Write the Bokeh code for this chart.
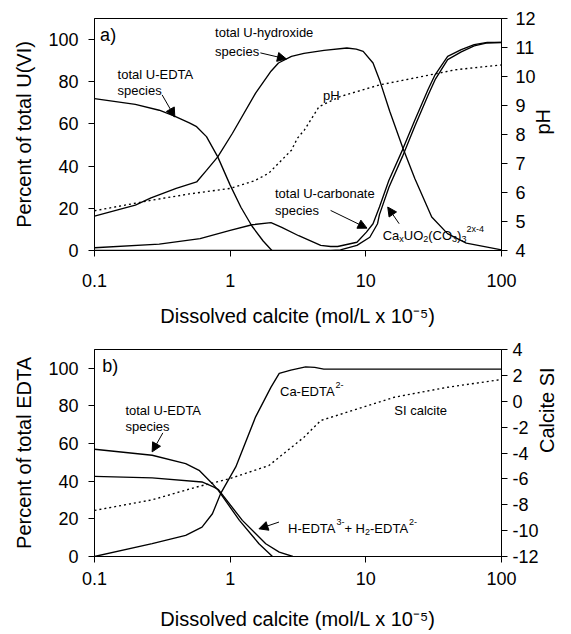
import math
from bokeh.plotting import figure
from bokeh.models import (Range1d, LinearAxis, FixedTicker, Label, Arrow,
                          NormalHead, CustomJSTickFormatter)
from bokeh.layouts import column
from bokeh.embed import file_html
from bokeh.resources import INLINE

FONT = "Liberation Sans"

# ---------------- data: panel a (percent of total U(VI), pH) ----------------
a_uedta_x = [0.1, 0.2, 0.3, 0.385, 0.5, 0.566, 0.669, 0.81, 1.0, 1.2, 1.45, 1.75, 2.03]
a_uedta_y = [72, 69.3, 66.5, 63.8, 60.5, 58.7, 54, 44.4, 31, 20.5, 11.5, 4.5, 0]

a_hydr_x = [0.1, 0.2, 0.261, 0.4, 0.566, 0.669, 0.81, 1.04, 1.54, 2.0, 2.27, 2.83, 3.5,
            4.92, 7.25, 8.5, 9.56, 11.3, 12.6, 15, 18.6, 23, 30.6, 40, 55, 78.5, 100]
a_hydr_y = [16.3, 21.5, 25, 29.5, 32.5, 38, 44.4, 55.6, 74.6, 85, 88.9, 92, 93.5,
            94.9, 96, 95.5, 94.4, 88.9, 81, 66, 49.2, 34, 15.9, 8, 3.5, 1.6, 0.3]

a_carb_x = [0.1, 0.3, 0.6, 1.0, 1.45, 2.0, 2.4, 3.2, 4.65, 5.5, 6.2, 8.6, 10.1, 11.3,
            12.6, 14.8, 18.6, 23, 28.7, 32.4, 40.1, 50.5, 62.9, 78.5, 100]
a_carb_y = [1.3, 3, 5.6, 9.5, 12.2, 13.2, 11, 7, 2.4, 1.9, 1.9, 3.9, 8.7, 12.7,
            20.6, 33.3, 47.6, 61.9, 76.2, 83.3, 92, 95.2, 97.6, 98.7, 98.7]

a_caco3_x = [0.1, 5.5, 6.5, 8.6, 10.7, 12.2, 12.6, 14.8, 18.6, 23, 28.7, 32.4, 40.1,
             50.5, 62.9, 78.5, 100]
a_caco3_y = [0, 0, 0.3, 2.4, 6.3, 12.7, 17, 30, 44.5, 59, 73.5, 81, 90.5,
             94.2, 97, 98.4, 98.6]

a_ph_x = [0.1, 0.261, 0.5, 1.0, 1.5, 1.92, 2.53, 2.83, 3.13, 3.53, 4.52, 6.48, 12.6,
          23, 45.3, 100]
a_ph_y = [5.37, 5.73, 5.95, 6.14, 6.4, 6.66, 7.23, 7.46, 7.87, 8.16, 8.96, 9.31, 9.71,
          9.95, 10.23, 10.4]

# ---------------- data: panel b (percent of total EDTA, calcite SI) ----------------
b_uedta_x = [0.1, 0.266, 0.47, 0.59, 0.74, 0.82, 1.17, 1.63, 2.05]
b_uedta_y = [57, 53.8, 49.4, 45.8, 38.7, 35, 19.2, 6.8, 0]

b_hedta_x = [0.1, 0.266, 0.62, 0.76, 0.82, 1.23, 1.83, 2.3, 2.9]
b_hedta_y = [42.6, 41.8, 39.6, 36.9, 35.5, 19.2, 6.8, 2.3, 0]

b_caedta_x = [0.1, 0.266, 0.47, 0.62, 0.74, 0.85, 1.1, 1.54, 2.0, 2.3, 2.8, 3.6, 4.2,
              4.9, 100]
b_caedta_y = [0, 6.8, 11.2, 15.6, 22.7, 33.4, 47.6, 74.2, 90, 97.3, 99, 100.8, 100.5,
              99.6, 99.6]

b_si_x = [0.1, 0.266, 0.56, 0.98, 1.93, 2.8, 3.5, 4.65, 8.7, 16.2, 40, 100]
b_si_y = [-8.44, -7.62, -6.64, -6.0, -4.97, -3.6, -2.78, -1.49, -0.59, 0.31, 1.08, 1.68]

# tick labels
x_ticks = [0.1, 1, 10, 100]
pct_ticks = [0, 20, 40, 60, 80, 100]
ph_ticks = [4, 5, 6, 7, 8, 9, 10, 11, 12]
si_ticks = [-12, -10, -8, -6, -4, -2, 0, 2, 4]

x_title = "Dissolved calcite (mol/L x 10⁻⁵)"

# approximate Arial / Liberation Sans advance widths (em) for composing sub/superscripts
W = {"C": .722, "a": .556, "U": .722, "O": .778, "(": .333, ")": .333, "x": .5,
     "2": .556, "3": .556, "4": .556, "-": .333, "E": .667, "D": .722, "T": .611,
     "A": .667, "H": .722, "+": .584, " ": .278}


def style_axis(ax, ticks=None):
    ax.axis_line_color = "black"
    ax.axis_line_width = 1
    ax.major_tick_line_color = "black"
    ax.major_tick_out = 6
    ax.major_tick_in = 0
    ax.minor_tick_line_color = None
    ax.major_label_text_font = FONT
    ax.major_label_text_font_size = "18px"
    ax.major_label_text_color = "black"
    ax.axis_label_text_font = FONT
    ax.axis_label_text_font_size = "20px"
    ax.axis_label_text_font_style = "normal"
    ax.axis_label_text_color = "black"
    ax.major_label_standoff = 10
    ax.axis_label_standoff = 10
    if ticks is not None:
        ax.ticker = FixedTicker(ticks=ticks, minor_ticks=[])


def base_fig(width, height, left, right, top, bottom, ylab, xlab_standoff, xtitle_standoff):
    p = figure(width=width, height=height, x_axis_type="log",
               x_range=Range1d(0.1, 100), y_range=Range1d(0, 110),
               output_backend="svg", toolbar_location=None,
               min_border_left=left, min_border_right=right,
               min_border_top=top, min_border_bottom=bottom)
    p.grid.visible = False
    p.outline_line_color = "black"
    p.outline_line_width = 1
    p.background_fill_color = "white"
    p.border_fill_color = "white"
    xa = p.xaxis[0]
    style_axis(xa, x_ticks)
    xa.formatter = CustomJSTickFormatter(code="return String(tick);")
    xa.axis_label = x_title
    xa.major_label_standoff = xlab_standoff
    xa.axis_label_standoff = xtitle_standoff
    ya = p.yaxis[0]
    style_axis(ya, pct_ticks)
    ya.axis_label = ylab
    return p


def add_label(p, text, x, y, size="13px"):
    p.add_layout(Label(x=x, y=y, text=text, text_font=FONT, text_font_size=size,
                       text_color="black", text_align="left", text_baseline="middle"))


def add_rich(p, pieces, x, y, main=13, small=9):
    """pieces: list of (text, kind) with kind 'n' normal, 'sub' or 'sup'."""
    dx = 0.0
    base = -0.36 * main
    for text, kind in pieces:
        size = main if kind == "n" else small
        dy = base + (-3.5 if kind == "sub" else (6.0 if kind == "sup" else 0))
        p.add_layout(Label(x=x, y=y, x_offset=dx, y_offset=dy, text=text,
                           text_font=FONT, text_font_size=f"{size}px",
                           text_color="black", text_align="left",
                           text_baseline="alphabetic"))
        dx += sum(W.get(c, .556) for c in text) * size


def add_arrow(p, x0, y0, x1, y1):
    p.add_layout(Arrow(end=NormalHead(size=9, fill_color="black", line_color="black",
                                      line_width=1),
                       x_start=x0, y_start=y0, x_end=x1, y_end=y1,
                       line_color="black", line_width=1))


LW = 1.35

# ---------------- panel a ----------------
pa = base_fig(571, 335, 88, 68, 18, 85, "Percent of total U(VI)", 17, 15)
pa.extra_y_ranges = {"ph": Range1d(4, 12)}
ra = LinearAxis(y_range_name="ph", axis_label="pH")
style_axis(ra, ph_ticks)
ra.major_label_standoff = 8
ra.axis_label_standoff = 4
ra.axis_label_orientation = math.pi / 2
pa.add_layout(ra, "right")

pa.line(a_uedta_x, a_uedta_y, line_color="black", line_width=LW)
pa.line(a_hydr_x, a_hydr_y, line_color="black", line_width=LW)
pa.line(a_carb_x, a_carb_y, line_color="black", line_width=LW)
pa.line(a_caco3_x, a_caco3_y, line_color="black", line_width=LW)
pa.line(a_ph_x, a_ph_y, y_range_name="ph", line_color="black", line_width=LW,
        line_dash="2 3")

add_label(pa, "a)", 0.110, 102.1, "18px")
add_label(pa, "total U-EDTA", 0.148, 83.6)
add_label(pa, "species", 0.148, 75.7)
add_label(pa, "total U-hydroxide", 0.774, 103.3)
add_label(pa, "species", 0.774, 94.3)
add_label(pa, "pH", 4.84, 73.3)
add_label(pa, "total U-carbonate", 2.14, 27)
add_label(pa, "species", 2.14, 19)
add_rich(pa, [("Ca", "n"), ("x", "sub"), ("UO", "n"), ("2", "sub"), ("(CO", "n"),
              ("3", "sub"), (")", "n"), ("3", "sub"), ("2x-4", "sup")], 13.3, 9.5)
add_arrow(pa, 0.315, 73.8, 0.391, 63.3)
add_arrow(pa, 1.67, 93.7, 2.60, 90.8)
add_arrow(pa, 5.5, 19, 10.2, 10.6)
add_arrow(pa, 17.6, 12.7, 14.5, 20.6)

# ---------------- panel b ----------------
pb = base_fig(571, 299, 94, 70, 14, 78, "Percent of total EDTA", 9, 20)
pb.extra_y_ranges = {"si": Range1d(-12, 4)}
rb = LinearAxis(y_range_name="si", axis_label="Calcite SI")
style_axis(rb, si_ticks)
rb.formatter = CustomJSTickFormatter(code="return String(tick);")
rb.major_label_standoff = 5
rb.axis_label_standoff = 5
rb.axis_label_orientation = math.pi / 2
pb.add_layout(rb, "right")

pb.line(b_uedta_x, b_uedta_y, line_color="black", line_width=LW)
pb.line(b_hedta_x, b_hedta_y, line_color="black", line_width=LW)
pb.line(b_caedta_x, b_caedta_y, line_color="black", line_width=LW)
pb.line(b_si_x, b_si_y, y_range_name="si", line_color="black", line_width=LW,
        line_dash="2 3")

add_label(pb, "b)", 0.114, 101, "18px")
add_label(pb, "total U-EDTA", 0.169, 77.8)
add_label(pb, "species", 0.169, 68.9)
add_rich(pb, [("Ca-EDTA", "n"), ("2-", "sup")], 2.33, 90.2)
add_label(pb, "SI calcite", 16.2, 77.4)
add_rich(pb, [("H-EDTA", "n"), ("3-", "sup"), ("+ H", "n"), ("2", "sub"),
              ("-EDTA", "n"), ("2-", "sup")], 2.67, 17.4)
add_arrow(pb, 0.319, 65.7, 0.266, 55.6)
add_arrow(pb, 2.29, 18.3, 1.63, 14.7)

layout = column(pa, pb)
open("out.html", "w").write(file_html(layout, INLINE))
